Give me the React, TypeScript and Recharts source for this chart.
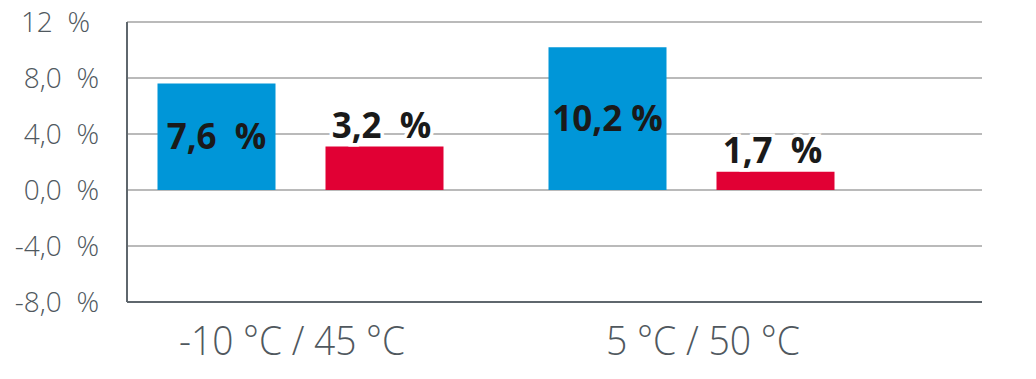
import { BarChart, Bar, XAxis, YAxis, CartesianGrid, LabelList } from 'recharts';

const categories = ['-10 °C / 45 °C', '5 °C / 50 °C'];
const blueValues = [7.6, 10.2];
const redValues = [3.1, 1.3];
const blueLabels = ['7,6\u00a0\u00a0%', '10,2\u00a0%'];
const redLabels = ['3,2\u00a0\u00a0%', '1,7\u00a0\u00a0%'];
const yTicks = [-8, -4, 0, 4, 8, 12];

const data = categories.map((name, i) => ({
  name,
  blue: blueValues[i],
  red: redValues[i],
}));

const FONT = '"Open Sans", sans-serif';
const catShift = [-8, 12];

const fmtY = (v: number) =>
  v === 12 ? '12\u00a0\u00a0%' : `${v.toFixed(1).replace('.', ',')}\u00a0\u00a0%`;

function CatTick(props: any) {
  const { x, y, payload, index } = props;
  return (
    <text
      x={x + (catShift[index] ?? 0)}
      y={y + 45}
      textAnchor="middle"
      fontFamily={FONT}
      fontWeight={300}
      fontSize={41}
      fill="#50585e"
      textLength={payload.value.length > 13 ? 226 : 194}
      lengthAdjust="spacingAndGlyphs"
    >
      {payload.value}
    </text>
  );
}

function YTick(props: any) {
  const { x, y, payload } = props;
  return (
    <text
      x={x - (payload.value === 12 ? 9 : 0)}
      y={y + 10}
      textAnchor="end"
      fontFamily={FONT}
      fontWeight={300}
      fontSize={28}
      fill="#50585e"
    >
      {fmtY(payload.value)}
    </text>
  );
}

function inside(labels: string[]) {
  return (p: any) => (
    <text
      x={p.x + p.width / 2}
      y={p.y + p.height / 2 + 12}
      textAnchor="middle"
      fontFamily={FONT}
      fontWeight={700}
      fontSize={35}
      fill="#1a1a1a"
    >
      {labels[p.index]}
    </text>
  );
}

function above(labels: string[]) {
  return (p: any) => (
    <text
      x={p.x + p.width / 2 - 3}
      y={p.y - 9}
      textAnchor="middle"
      fontFamily={FONT}
      fontWeight={700}
      fontSize={35}
      fill="#1a1a1a"
      stroke="#ffffff"
      strokeWidth={7}
      paintOrder="stroke"
    >
      {labels[p.index]}
    </text>
  );
}

export default function App() {
  return (
    <div style={{ width: 1020, height: 371, marginTop: -8, background: '#fff' }}>
      <BarChart
        width={1020}
        height={371}
        data={data}
        margin={{ top: 22, right: 46, left: 0, bottom: 0 }}
        barSize={118}
        barGap={50}
      >
        <CartesianGrid vertical={false} stroke="#a3a3a3" strokeWidth={1.5} />
        <XAxis
          dataKey="name"
          height={69}
          padding={{ left: -22.5, right: 95.5 }}
          axisLine={{ stroke: '#5f676d', strokeWidth: 2 }}
          tickLine={false}
          tick={<CatTick />}
          interval={0}
        />
        <YAxis
          width={119}
          domain={[-8, 12]}
          ticks={yTicks}
          interval={0}
          axisLine={{ stroke: '#5f676d', strokeWidth: 2 }}
          tickLine={false}
          tickMargin={22}
          tick={<YTick />}
        />
        <Bar dataKey="blue" fill="#0096d8" isAnimationActive={false}>
          <LabelList dataKey="blue" content={inside(blueLabels)} />
        </Bar>
        <Bar dataKey="red" fill="#e10034" isAnimationActive={false}>
          <LabelList dataKey="red" content={above(redLabels)} />
        </Bar>
      </BarChart>
    </div>
  );
}
